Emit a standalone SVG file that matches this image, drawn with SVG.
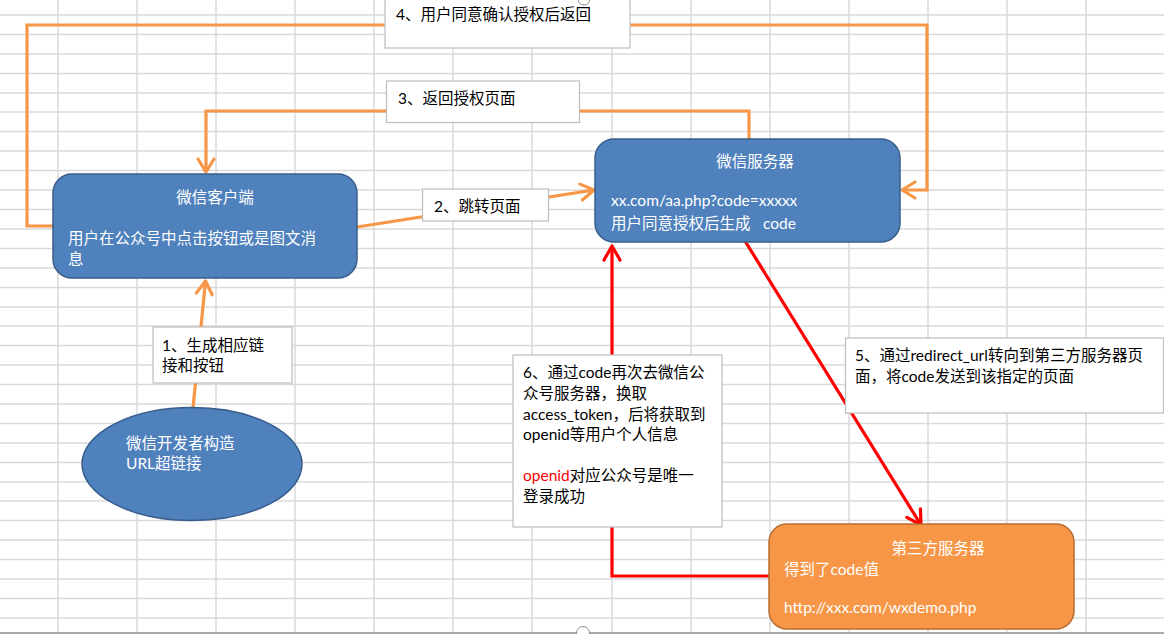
<svg xmlns="http://www.w3.org/2000/svg" width="1164" height="634" viewBox="0 0 1164 634">
<style>
text{font-family:"Lato","Noto Sans CJK SC",sans-serif;font-size:15.5px;}
.w{fill:#ffffff;}
.k{fill:#000000;}
.grid{stroke:#dadada;stroke-width:1.5;fill:none;}
.blue{fill:#4F81BD;stroke:#385D8A;stroke-width:1.5;}
.org{fill:#F79646;stroke:#B66D31;stroke-width:1.5;}
.lbl{fill:#ffffff;stroke:#bdbdbd;stroke-width:1.2;}
.oc{stroke:#F79646;stroke-width:3.2;fill:none;stroke-linejoin:miter;}
.rc{stroke:#FF0000;stroke-width:3.2;fill:none;stroke-linejoin:miter;}
</style>
<defs>
<marker id="ao" markerUnits="userSpaceOnUse" viewBox="-16 -11 19 22" refX="0" refY="0" markerWidth="19" markerHeight="22" orient="auto">
<path d="M-13,-8 L0,0 L-13,8" fill="none" stroke="#F79646" stroke-width="3.2" stroke-linecap="round" stroke-linejoin="round"/>
</marker>
<marker id="ar" markerUnits="userSpaceOnUse" viewBox="-16 -11 19 22" refX="0" refY="0" markerWidth="19" markerHeight="22" orient="auto">
<path d="M-14,-8 L0,0 L-14,8" fill="none" stroke="#FF0000" stroke-width="3.2" stroke-linecap="round" stroke-linejoin="round"/>
</marker>
</defs>
<rect x="0" y="0" width="1164" height="634" fill="#ffffff"/>
<g id="grid" class="grid">
<path d="M58,0V634M137,0V634M216,0V634M295,0V634M374,0V634M453,0V634M532,0V634M612,0V634M691,0V634M770,0V634M849,0V634M928,0V634M1007,0V634M1086,0V634"/>
<path d="M0,15H1164M0,34.5H1164M0,54H1164M0,73.5H1164M0,93H1164M0,112H1164M0,131.5H1164M0,151H1164M0,170.5H1164M0,190H1164M0,209.5H1164M0,229H1164M0,248.5H1164M0,268H1164M0,287.5H1164M0,307H1164M0,326H1164M0,345.5H1164M0,365H1164M0,384.5H1164M0,404H1164M0,423.5H1164M0,443H1164M0,462.5H1164M0,482H1164M0,501H1164M0,520.5H1164M0,540H1164M0,559.5H1164M0,579H1164M0,598.5H1164M0,618H1164"/>
</g>
<g id="connectors">
<path class="oc" d="M193,408 L205.5,281" marker-end="url(#ao)"/>
<path class="oc" d="M357,227 L594,190" marker-end="url(#ao)"/>
<path class="oc" d="M749,139 V111 H206 V172" marker-end="url(#ao)"/>
<path class="oc" d="M53,226 H27 V25 H927 V190 H902" marker-end="url(#ao)"/>
<path class="rc" d="M745,241 L921,525" marker-end="url(#ar)"/>
<path class="rc" d="M769,576 H612 V246" marker-end="url(#ar)"/>
</g>
<g id="node-client">
<rect class="blue" x="53" y="174" width="304" height="104" rx="19"/>
<text class="w" x="215" y="203" text-anchor="middle">微信客户端</text>
<text class="w" x="68" y="244" font-size="16">用户在公众号中点击按钮或是图文消</text>
<text class="w" x="68" y="265" font-size="16">息</text>
</g>
<g id="node-wxserver">
<rect class="blue" x="595" y="139" width="305" height="103" rx="19"/>
<text class="w" x="755" y="167" text-anchor="middle" font-size="15">微信服务器</text>
<text class="w" x="611" y="206" font-size="15">xx.com/aa.php?code=xxxxx</text>
<text class="w" x="611" y="229" font-size="15">用户同意授权后生成<tspan x="763">code</tspan></text>
</g>
<g id="node-developer">
<ellipse class="blue" cx="192" cy="464" rx="110" ry="56.5"/>
<text class="w" x="126" y="449">微信开发者构造</text>
<text class="w" x="126" y="469">URL超链接</text>
</g>
<g id="node-third">
<rect class="org" x="769" y="524" width="305" height="105" rx="18"/>
<text class="w" x="938" y="554" text-anchor="middle">第三方服务器</text>
<text class="w" x="784" y="575">得到了code值</text>
<text class="w" x="784" y="613">http://xxx.com/wxdemo.php</text>
</g>
<g id="label-1">
<rect class="lbl" x="153" y="327" width="139" height="56"/>
<text class="k" x="162" y="351">1、生成相应链</text>
<text class="k" x="162" y="371">接和按钮</text>
</g>
<g id="label-2">
<rect class="lbl" x="422.5" y="189" width="126" height="32"/>
<text class="k" x="434" y="212">2、跳转页面</text>
</g>
<g id="label-3">
<rect class="lbl" x="386.5" y="81" width="193" height="41.5"/>
<text class="k" x="398" y="104">3、返回授权页面</text>
</g>
<g id="label-4">
<rect class="lbl" x="385" y="-6" width="245" height="54"/>
<text class="k" x="396" y="20">4、用户同意确认授权后返回</text>
</g>
<g id="label-5">
<rect class="lbl" x="845.5" y="338" width="318" height="75"/>
<text class="k" x="855" y="361">5、通过redirect_url转向到第三方服务器页</text>
<text class="k" x="855" y="382">面，将code发送到该指定的页面</text>
</g>
<g id="label-6">
<rect class="lbl" x="513" y="355" width="209" height="172"/>
<text class="k" x="523" y="378">6、通过code再次去微信公</text>
<text class="k" x="523" y="399">众号服务器，换取</text>
<text class="k" x="523" y="419.5">access_token，后将获取到</text>
<text class="k" x="523" y="440">openid等用户个人信息</text>
<text class="k" x="523" y="481"><tspan fill="#FF0000">openid</tspan>对应公众号是唯一</text>
<text class="k" x="523" y="501.5">登录成功</text>
</g>
<g id="frame">
<path d="M0,633H1164" stroke="#8c8c8c" stroke-width="1.5"/>
<circle cx="583" cy="633" r="6.5" fill="#ffffff" stroke="#8c8c8c" stroke-width="1"/>
<circle cx="584" cy="-1" r="6" fill="#ffffff" stroke="#8c8c8c" stroke-width="1"/>
</g>
</svg>
